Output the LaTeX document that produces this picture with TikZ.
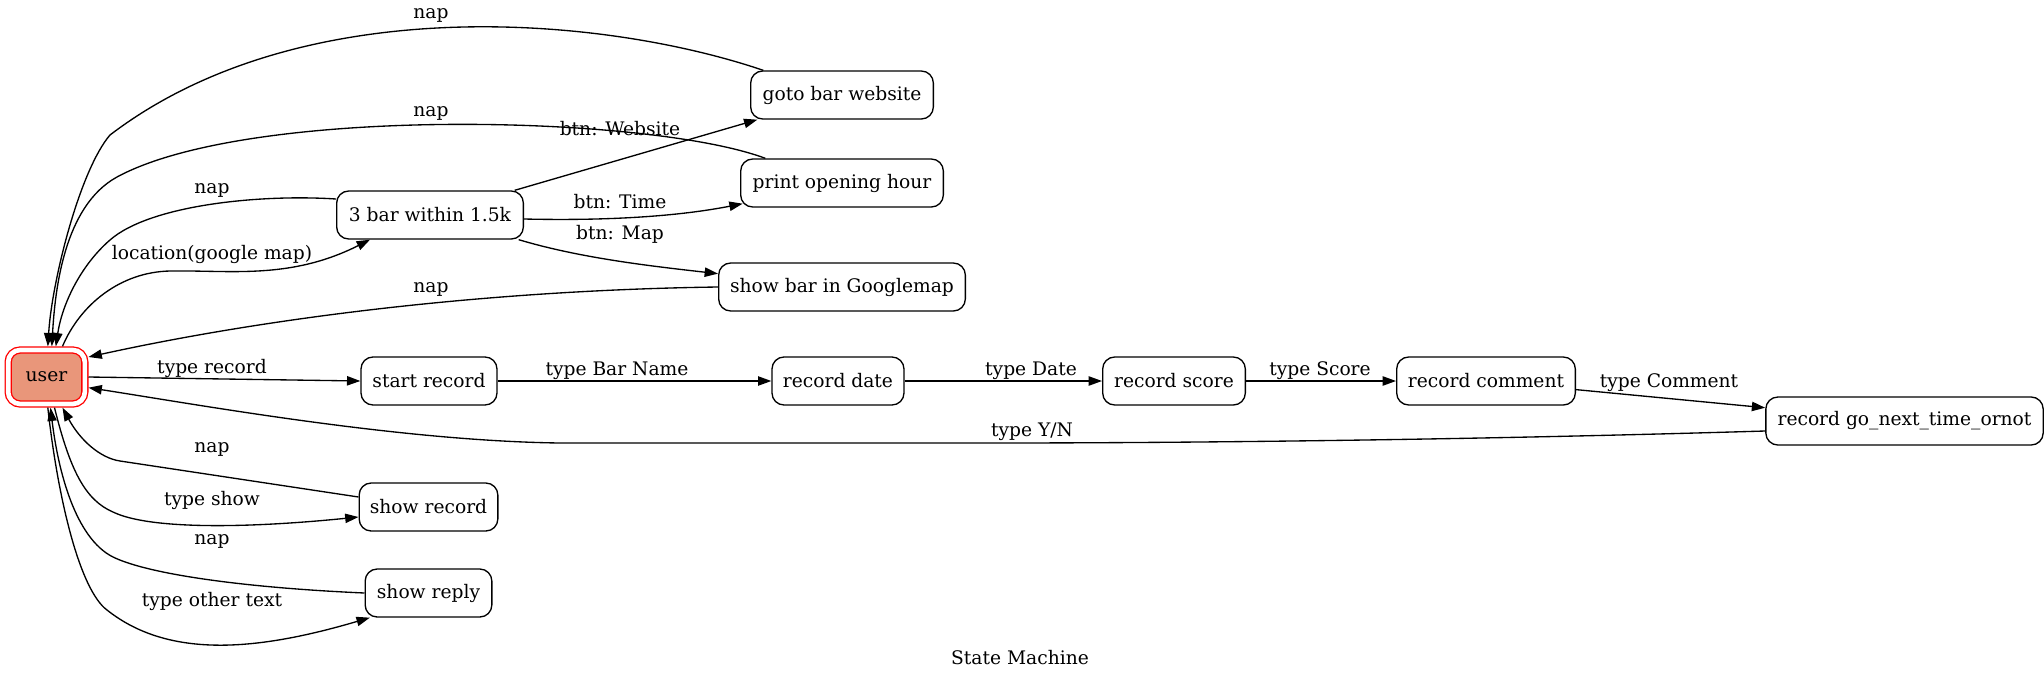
\documentclass[tikz,border=0pt]{standalone}
\usepackage{fontspec}
\setmainfont{DejaVu Serif}
\usetikzlibrary{arrows.meta}

\begin{document}
\begin{tikzpicture}[x=0.75pt, y=-0.75pt, line width=1pt,
    state/.style={draw, rounded corners=9pt, minimum height=36pt, inner xsep=6pt, font=\fontsize{14}{16}\selectfont},
    lbl/.style={inner sep=0pt, font=\fontsize{14}{16}\selectfont},
    tr/.style={-{Triangle[length=10pt,width=7pt]}}]
    \useasboundingbox (0,0) rectangle (2044,682);

    % start state
    \node[state, draw=red, double=white, double distance=3.5pt, fill={rgb,255:red,233;green,150;blue,122},
        minimum width=57.5pt, minimum height=40.5pt, outer sep=2.75pt] (user) at (46.5,377) {user};

    % states
    \foreach \n/\x/\y/\w/\t in {start/429/381/102/start record, date/838/381/99/record date,
        score/1174/381/107/record score, comment/1486/381/134/record comment,
        gonext/1904.5/421/208/record go\_next\_time\_ornot, bars/430/215/140/3 bar within 1.5k,
        web/842/95/137/goto bar website, hour/842/183/152/print opening hour,
        gmap/842/287/185/show bar in Googlemap, showrec/428.5/507/104/show record,
        showrep/428.5/593/95/show reply}
        \node[state, minimum width=\w pt] (\n) at (\x,\y) {\t};

    % record chain
    \draw[tr] (user.east) -- (start.west);
    \foreach \a/\b in {start/date, date/score, score/comment, comment/gonext}
        \draw[tr] (\a) -- (\b);
    \draw[tr] ([yshift=-7.5pt]gonext.west) .. controls (1400,442) and (1100,443) .. (990,443) -- (560,443)
        .. controls (400,441) and (200,405) .. ([yshift=-8pt]user.east);

    % location
    \draw[tr] ([xshift=12pt]user.north) .. controls (80,305) and (120,272) .. (170,271)
        .. controls (230,270) and (290,280) .. ([xshift=-45pt]bars.south);
    \draw[tr] (bars) -- (web);
    \draw[tr] ([yshift=-3pt]bars.east) .. controls (610,221) and (680,216) .. ([xshift=2pt,yshift=3pt]hour.south west);
    \draw[tr] ([xshift=-4pt]bars.south east) .. controls (580,258) and (650,266) .. ([yshift=10pt]gmap.west);

    % back to user
    \draw[tr] ([xshift=10pt]web.north west) .. controls (600,15) and (300,-10) .. (110,135)
        .. controls (80,170) and (52,280) .. ([xshift=1pt]user.north);
    \draw[tr] ([xshift=19pt]hour.north west) .. controls (650,115) and (250,105) .. (117,177)
        .. controls (64,206) and (55,290) .. ([xshift=4pt]user.north);
    \draw[tr] ([yshift=12pt]bars.west) .. controls (260,194) and (150,205) .. (110,240)
        .. controls (80,266) and (62,305) .. ([xshift=7pt]user.north);
    \draw[tr] (gmap.west) .. controls (500,290) and (280,315) .. ([yshift=15pt]user.east);

    % show
    \draw[tr] ([yshift=7.5pt]showrec.west) -- (120,461) .. controls (100,458) and (80,440) .. ([xshift=12pt]user.south);
    \draw[tr] ([xshift=6pt]user.south) .. controls (70,470) and (85,500) .. (113,512)
        .. controls (150,530) and (250,528) .. ([yshift=-7.5pt]showrec.west);
    \draw[tr] (showrep.west) .. controls (250,588) and (150,575) .. (113,557)
        .. controls (75,538) and (58,470) .. ([xshift=3pt]user.south);
    \draw[tr] ([xshift=1pt]user.south) .. controls (58,500) and (80,590) .. (107,610)
        .. controls (170,660) and (260,650) .. ([xshift=4pt]showrep.south west);

    % labels
    \foreach \x/\y/\t in {212/368/type record, 617/371/type Bar Name, 1031/371/type Date,
        1320/371/type Score, 1669/383/type Comment, 212/254/location(google map),
        212/190/nap, 431/15/nap, 431/113/nap, 620/129/btn: Website, 620/202/btn: Time,
        620/234/btn: Map, 431/289/nap, 212/449/nap, 212/500/type show, 212/541/nap,
        212/601/type other text, 1020/658/State Machine}
        \node[lbl] at (\x,\y) {\t};
    \node[lbl] at (1032,432) {type Y/N};
\end{tikzpicture}
\end{document}
